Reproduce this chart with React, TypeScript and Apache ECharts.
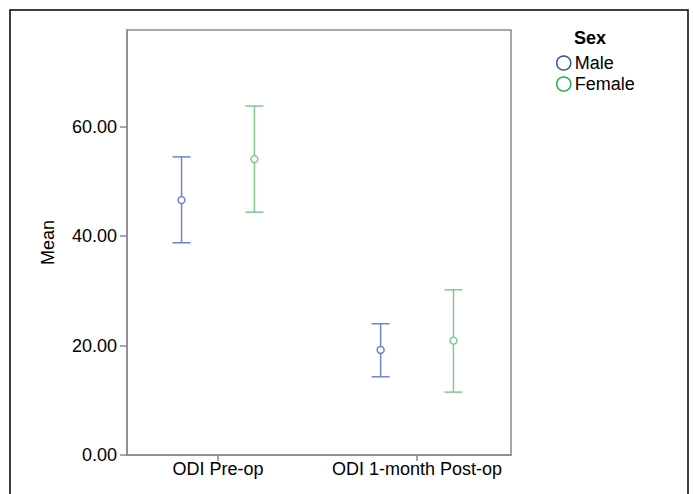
import React, { useEffect, useRef } from "react";
import * as echarts from "echarts";

const categories = ["ODI Pre-op", "ODI 1-month Post-op"];
const maleMean = [46.6, 19.2];
const maleLower = [38.8, 14.3];
const maleUpper = [54.5, 24.0];
const femaleMean = [54.1, 20.9];
const femaleLower = [44.4, 11.5];
const femaleUpper = [63.8, 30.2];
const yTickValues = [0, 20, 40, 60];
const xTickValues = [0, 1];
const yMax = 77.7;

const FONT = "Liberation Sans, Arial, Helvetica, sans-serif";
const GROUP_OFFSET = 0.183;

function makeRender(offset: number, color: string) {
  return (params: any, api: any) => {
    const idx = api.value(0) + offset;
    const m = api.coord([idx, api.value(1)]);
    const lo = api.coord([idx, api.value(2)]);
    const hi = api.coord([idx, api.value(3)]);
    const x = m[0];
    const cap = 9;
    const ls = { stroke: color, lineWidth: 1.5 };
    return {
      type: "group",
      children: [
        { type: "line", shape: { x1: x, y1: hi[1], x2: x, y2: lo[1] }, style: ls },
        { type: "line", shape: { x1: x - cap, y1: hi[1], x2: x + cap, y2: hi[1] }, style: ls },
        { type: "line", shape: { x1: x - cap, y1: lo[1], x2: x + cap, y2: lo[1] }, style: ls },
        { type: "circle", shape: { cx: x, cy: m[1], r: 3.5 }, style: { fill: "#fff", stroke: color, lineWidth: 1.5 } },
      ],
    };
  };
}

export default function App() {
  const ref = useRef<HTMLDivElement>(null);
  useEffect(() => {
    if (!ref.current) return;
    const chart = echarts.init(ref.current, null, { renderer: "svg" });
    const maleData = categories.map((_, i) => [i, maleMean[i], maleLower[i], maleUpper[i]]);
    const femaleData = categories.map((_, i) => [i, femaleMean[i], femaleLower[i], femaleUpper[i]]);
    chart.setOption({
      animation: false,
      backgroundColor: "#fff",
      textStyle: { fontFamily: FONT },
      grid: {
        left: 127,
        top: 30,
        right: 182,
        bottom: 39,
        show: true,
        borderColor: "#8a8a8a",
        borderWidth: 1.5,
        containLabel: false,
      },
      graphic: [
        {
          type: "rect",
          shape: { x: 10, y: 10, width: 678, height: 500 },
          style: { fill: "none", stroke: "#000", lineWidth: 1.5 },
          silent: true,
        },
        {
          type: "text",
          left: 574,
          top: 29,
          style: { text: "Sex", font: `bold 18px ${FONT}`, fill: "#000" },
        },
      ],
      legend: {
        orient: "vertical",
        left: 551,
        top: 49,
        padding: 5,
        itemWidth: 14,
        itemHeight: 14,
        itemGap: 3,
        textStyle: { fontSize: 18, color: "#000", fontFamily: FONT, lineHeight: 14, padding: [0, 0, 0, -1] },
        data: [
          { name: "Male", icon: "circle", itemStyle: { color: "#fff", borderColor: "#2e5597", borderWidth: 1.5 } },
          { name: "Female", icon: "circle", itemStyle: { color: "#fff", borderColor: "#1fae4b", borderWidth: 1.5 } },
        ],
      },
      xAxis: {
        type: "value",
        min: -0.457,
        max: 1.472,
        axisLine: { show: true, onZero: false, lineStyle: { color: "#8a8a8a", width: 1.5 } },
        axisTick: { show: true, length: 6, customValues: xTickValues, lineStyle: { color: "#8a8a8a", width: 1.5 } },
        axisLabel: {
          color: "#000",
          fontSize: 18,
          fontFamily: FONT,
          margin: 5,
          customValues: xTickValues,
          formatter: (v: number) => categories[Math.round(v)] ?? "",
        },
        splitLine: { show: false },
      },
      yAxis: {
        type: "value",
        min: 0,
        max: yMax,
        name: "Mean",
        nameLocation: "middle",
        nameRotate: 90,
        nameGap: 70,
        nameTextStyle: { color: "#000", fontSize: 18, fontFamily: FONT },
        axisLine: { show: true, onZero: false, lineStyle: { color: "#8a8a8a", width: 1.5 } },
        axisTick: { show: true, length: 7, customValues: yTickValues, lineStyle: { color: "#8a8a8a", width: 1.5 } },
        axisLabel: {
          color: "#000",
          fontSize: 18,
          fontFamily: FONT,
          margin: 10,
          customValues: yTickValues,
          formatter: (v: number) => v.toFixed(2),
        },
        splitLine: { show: false },
      },
      series: [
        {
          name: "Male",
          type: "custom",
          renderItem: makeRender(-GROUP_OFFSET, "#6f82cf"),
          encode: { x: 0, y: 1 },
          data: maleData,
        },
        {
          name: "Female",
          type: "custom",
          renderItem: makeRender(GROUP_OFFSET, "#80c98d"),
          encode: { x: 0, y: 1 },
          data: femaleData,
        },
      ],
    });
    return () => chart.dispose();
  }, []);
  return (
    <div
      ref={ref}
      style={{ position: "fixed", left: 0, top: 0, width: 693, height: 494 }}
    />
  );
}
